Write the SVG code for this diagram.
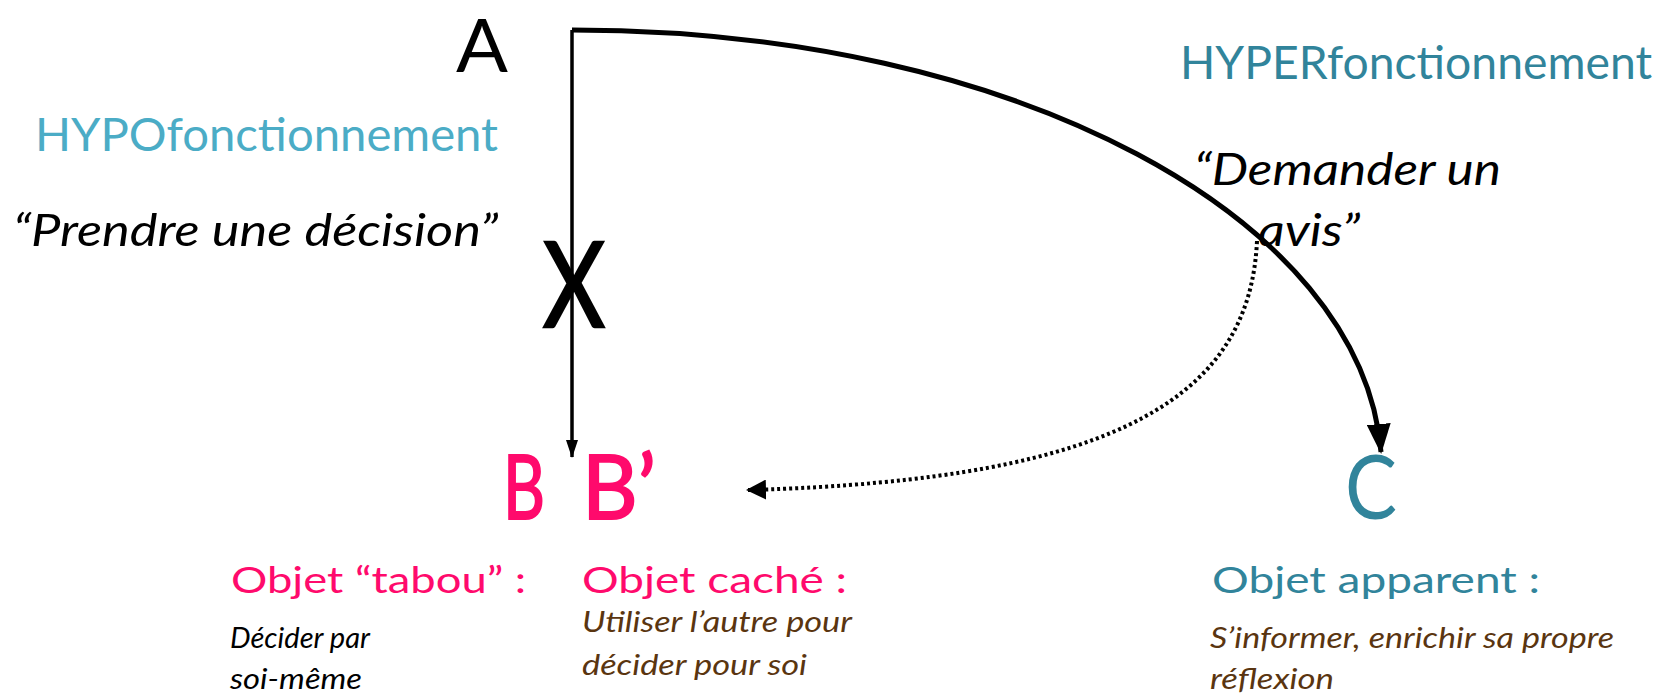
<svg xmlns="http://www.w3.org/2000/svg" width="1660" height="695" viewBox="0 0 1660 695">
<style>
text{font-family:"Lato","Liberation Sans",sans-serif;}
.big{font-size:74px;}
.pink{fill:#ff0a6c;}
.teal{fill:#31849b;}
.aqua{fill:#4bacc6;}
.blk{fill:#000;}
.brown{fill:#5a3510;}
.h{font-size:46px;}
.q{font-size:44px;font-style:italic;}
.ob{font-size:36px;}
.sm{font-size:28px;font-style:italic;}
.letter{font-size:90px;}
</style>
<defs>
<marker id="ah" markerWidth="18" markerHeight="12" refX="17" refY="6" orient="auto" markerUnits="userSpaceOnUse" viewBox="0 0 18 12"><path d="M0,0 L18,6 L0,12 z" fill="#000"/></marker>
<marker id="ahBig" markerWidth="30" markerHeight="24" refX="28" refY="12" orient="auto" markerUnits="userSpaceOnUse" viewBox="0 0 30 24"><path d="M0,0 L30,12 L0,24 z" fill="#000"/></marker>
<marker id="ahDot" markerWidth="20" markerHeight="20" refX="18" refY="10" orient="auto" markerUnits="userSpaceOnUse" viewBox="0 0 20 20"><path d="M0,0 L20,10 L0,20 z" fill="#000"/></marker>
</defs>
<g id="connectors" fill="none" stroke="#000">
<path d="M572,30 L572,457" stroke-width="3.5" marker-end="url(#ah)"/>
<path d="M572,30 C1019,30 1362,220 1381,452" stroke-width="5" marker-end="url(#ahBig)"/>
<path d="M1257,241 C1250,390 1130,480 748,490" stroke-width="4" stroke-dasharray="3,3" marker-end="url(#ahDot)"/>
</g>
<g id="A"><text x="456" y="72" class="big blk" textLength="52" lengthAdjust="spacingAndGlyphs">A</text></g>
<g id="hypo"><text x="35" y="151" class="h aqua" textLength="463" lengthAdjust="spacingAndGlyphs">HYPOfonctionnement</text></g>
<g id="hyper"><text x="1180" y="79" class="h teal" textLength="472" lengthAdjust="spacingAndGlyphs">HYPERfonctionnement</text></g>
<g id="prendre"><text x="13" y="246" class="q blk" textLength="485" lengthAdjust="spacingAndGlyphs">“Prendre une décision”</text></g>
<g id="demander"><text x="1194" y="185" class="q blk" textLength="307" lengthAdjust="spacingAndGlyphs">“Demander un</text><text x="1258" y="246" class="q blk" textLength="102" lengthAdjust="spacingAndGlyphs">avis”</text></g>
<g id="X"><text x="543" y="327" style="font-size:118px" class="blk" stroke="#000" stroke-width="2.5" textLength="62" lengthAdjust="spacingAndGlyphs">X</text></g>
<g id="B"><text x="503" y="519" class="letter pink" stroke="#ff0a6c" stroke-width="2" textLength="42" lengthAdjust="spacingAndGlyphs">B</text></g>
<g id="Bprime"><text x="582" y="519" class="letter pink" stroke="#ff0a6c" stroke-width="2" textLength="74" lengthAdjust="spacingAndGlyphs">B’</text></g>
<g id="C"><text x="1345" y="519" class="letter teal" textLength="52" lengthAdjust="spacingAndGlyphs">C</text></g>
<g id="tabou"><text x="231" y="593" class="ob pink" textLength="295" lengthAdjust="spacingAndGlyphs">Objet “tabou” :</text><text x="230" y="648" class="sm blk" textLength="140" lengthAdjust="spacingAndGlyphs">Décider par</text><text x="230" y="689" class="sm blk" textLength="132" lengthAdjust="spacingAndGlyphs">soi-même</text></g>
<g id="cache"><text x="582" y="593" class="ob pink" textLength="265" lengthAdjust="spacingAndGlyphs">Objet caché :</text><text x="582" y="632" class="sm brown" textLength="270" lengthAdjust="spacingAndGlyphs">Utiliser l’autre pour</text><text x="582" y="675" class="sm brown" textLength="225" lengthAdjust="spacingAndGlyphs">décider pour soi</text></g>
<g id="apparent"><text x="1212" y="593" class="ob teal" textLength="328" lengthAdjust="spacingAndGlyphs">Objet apparent :</text><text x="1210" y="648" class="sm brown" textLength="404" lengthAdjust="spacingAndGlyphs">S’informer, enrichir sa propre</text><text x="1210" y="689" class="sm brown" textLength="124" lengthAdjust="spacingAndGlyphs">réflexion</text></g>
</svg>
